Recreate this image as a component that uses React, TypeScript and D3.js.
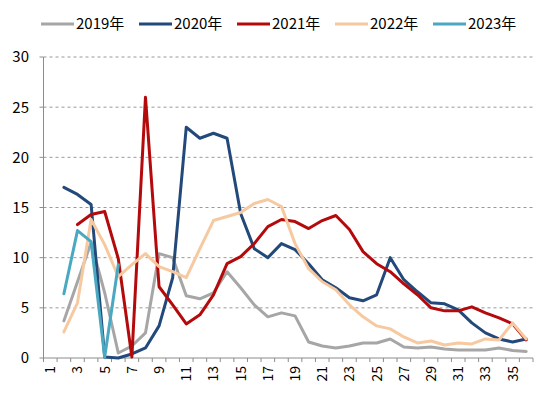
import React from 'react';
import * as d3 from 'd3';

// week numbers 1..36
const weeks = d3.range(1, 37);
const xLabels = weeks.filter(w => w % 2 === 1);
const yTicks = [0, 5, 10, 15, 20, 25, 30];

type V = number | null;

const s2019: V[] = [null, 3.7, 7.6, 11.5, 6.5, 0.5, 1.2, 2.5, 10.4, 10.0, 6.2, 5.9, 6.5, 8.6, 7.0, 5.3, 4.1, 4.5, 4.2, 1.6, 1.2, 1.0, 1.2, 1.5, 1.5, 1.9, 1.1, 1.0, 1.1, 0.9, 0.8, 0.8, 0.8, 1.0, 0.75, 0.65];
const s2020: V[] = [null, 17.0, 16.3, 15.3, 0.1, 0.0, 0.4, 1.0, 3.2, 8.0, 23.0, 21.9, 22.4, 21.9, 14.4, 10.9, 10.0, 11.4, 10.8, 9.4, 7.8, 7.0, 6.0, 5.7, 6.3, 10.0, 7.8, 6.6, 5.5, 5.4, 4.8, 3.5, 2.5, 1.9, 1.6, 1.9];
const s2021: V[] = [null, null, 13.3, 14.3, 14.6, 9.9, 0.1, 26.0, 7.1, 5.3, 3.4, 4.3, 6.3, 9.4, 10.1, 11.4, 13.1, 13.8, 13.6, 12.9, 13.7, 14.2, 12.8, 10.6, 9.4, 8.6, 7.4, 6.3, 5.0, 4.7, 4.7, 5.1, 4.5, 4.0, 3.4, 1.8];
const s2022: V[] = [null, 2.6, 5.5, 13.8, 11.3, 8.1, 9.3, 10.4, 9.1, 8.6, 8.0, 10.9, 13.7, 14.1, 14.5, 15.4, 15.8, 15.1, 11.4, 8.9, 7.6, 6.8, 5.3, 4.1, 3.2, 2.9, 2.1, 1.5, 1.7, 1.3, 1.5, 1.4, 1.9, 1.8, 3.5, 1.9];
const s2023: V[] = [null, 6.4, 12.7, 11.6, 0.1, 9.3];

const seriesNames = ['2019年', '2020年', '2021年', '2022年', '2023年'];
const seriesValues = [s2019, s2020, s2021, s2022, s2023];
const colors = ['#a6a6a6', '#23497a', '#b40a0c', '#f6c9a0', '#4aa8c0'];

const FONT = '"Microsoft YaHei", "Noto Sans CJK SC", "Noto Sans", sans-serif';

export default function App() {
  const W = 550, H = 397;
  const left = 43.5, right = 533, top = 57, bottom = 358;

  const x = d3.scaleBand<number>().domain(weeks).range([left, right]).paddingInner(0).paddingOuter(0);
  const y = d3.scaleLinear().domain([0, 30]).range([bottom, top]);
  const cx = (w: number) => (x(w) as number) + x.bandwidth() / 2;

  const line = d3.line<{ w: number; v: V }>()
    .defined(d => d.v !== null)
    .x(d => cx(d.w))
    .y(d => y(d.v as number));

  // tick marks sit on band edges, like the spreadsheet original
  const edges = d3.range(0, weeks.length + 1).map(i => left + i * x.bandwidth());

  return (
    <svg width={W} height={H} style={{ position: 'absolute', left: 0, top: 0, background: '#fff' }}>
      {/* gridlines */}
      {yTicks.filter(t => t > 0).map(t => (
        <line key={t} x1={left} x2={right} y1={y(t)} y2={y(t)} stroke="#7f7f7f" strokeWidth={0.8} strokeDasharray="3,3" />
      ))}

      {/* y axis */}
      <line x1={left} x2={left} y1={top} y2={bottom} stroke="#8c8c8c" strokeWidth={1} />
      {yTicks.map(t => (
        <g key={t}>
          <line x1={left - 4} x2={left} y1={y(t)} y2={y(t)} stroke="#8c8c8c" strokeWidth={1} />
          <text x={29} y={y(t)} dy="0.36em" textAnchor="end" fontSize={15} fontFamily={FONT} fill="#000">{t}</text>
        </g>
      ))}

      {/* x axis */}
      <line x1={left} x2={right} y1={bottom} y2={bottom} stroke="#8c8c8c" strokeWidth={1} />
      {edges.map((e, i) => (
        <line key={i} x1={e} x2={e} y1={bottom} y2={bottom + 4} stroke="#8c8c8c" strokeWidth={1} />
      ))}
      {xLabels.map(w => (
        <text key={w} transform={`translate(${cx(w) + 5},${bottom + 8}) rotate(-90)`} textAnchor="end" fontSize={14} fontFamily={FONT} fill="#000">{w}</text>
      ))}

      {/* series */}
      {seriesValues.map((vals, i) => (
        <path key={i} d={line(weeks.map((w, j) => ({ w, v: j < vals.length ? vals[j] : null }))) || ''}
          fill="none" stroke={colors[i]} strokeWidth={3} strokeLinejoin="round" strokeLinecap="round" />
      ))}

      {/* legend */}
      {seriesNames.map((n, i) => {
        const lx = 41 + i * 98;
        return (
          <g key={n}>
            <line x1={lx} x2={lx + 33} y1={24} y2={24} stroke={colors[i]} strokeWidth={3} />
            <text x={lx + 35} y={24} dy="0.36em" fontSize={15} fontFamily={FONT} fill="#000">{n}</text>
          </g>
        );
      })}
    </svg>
  );
}
